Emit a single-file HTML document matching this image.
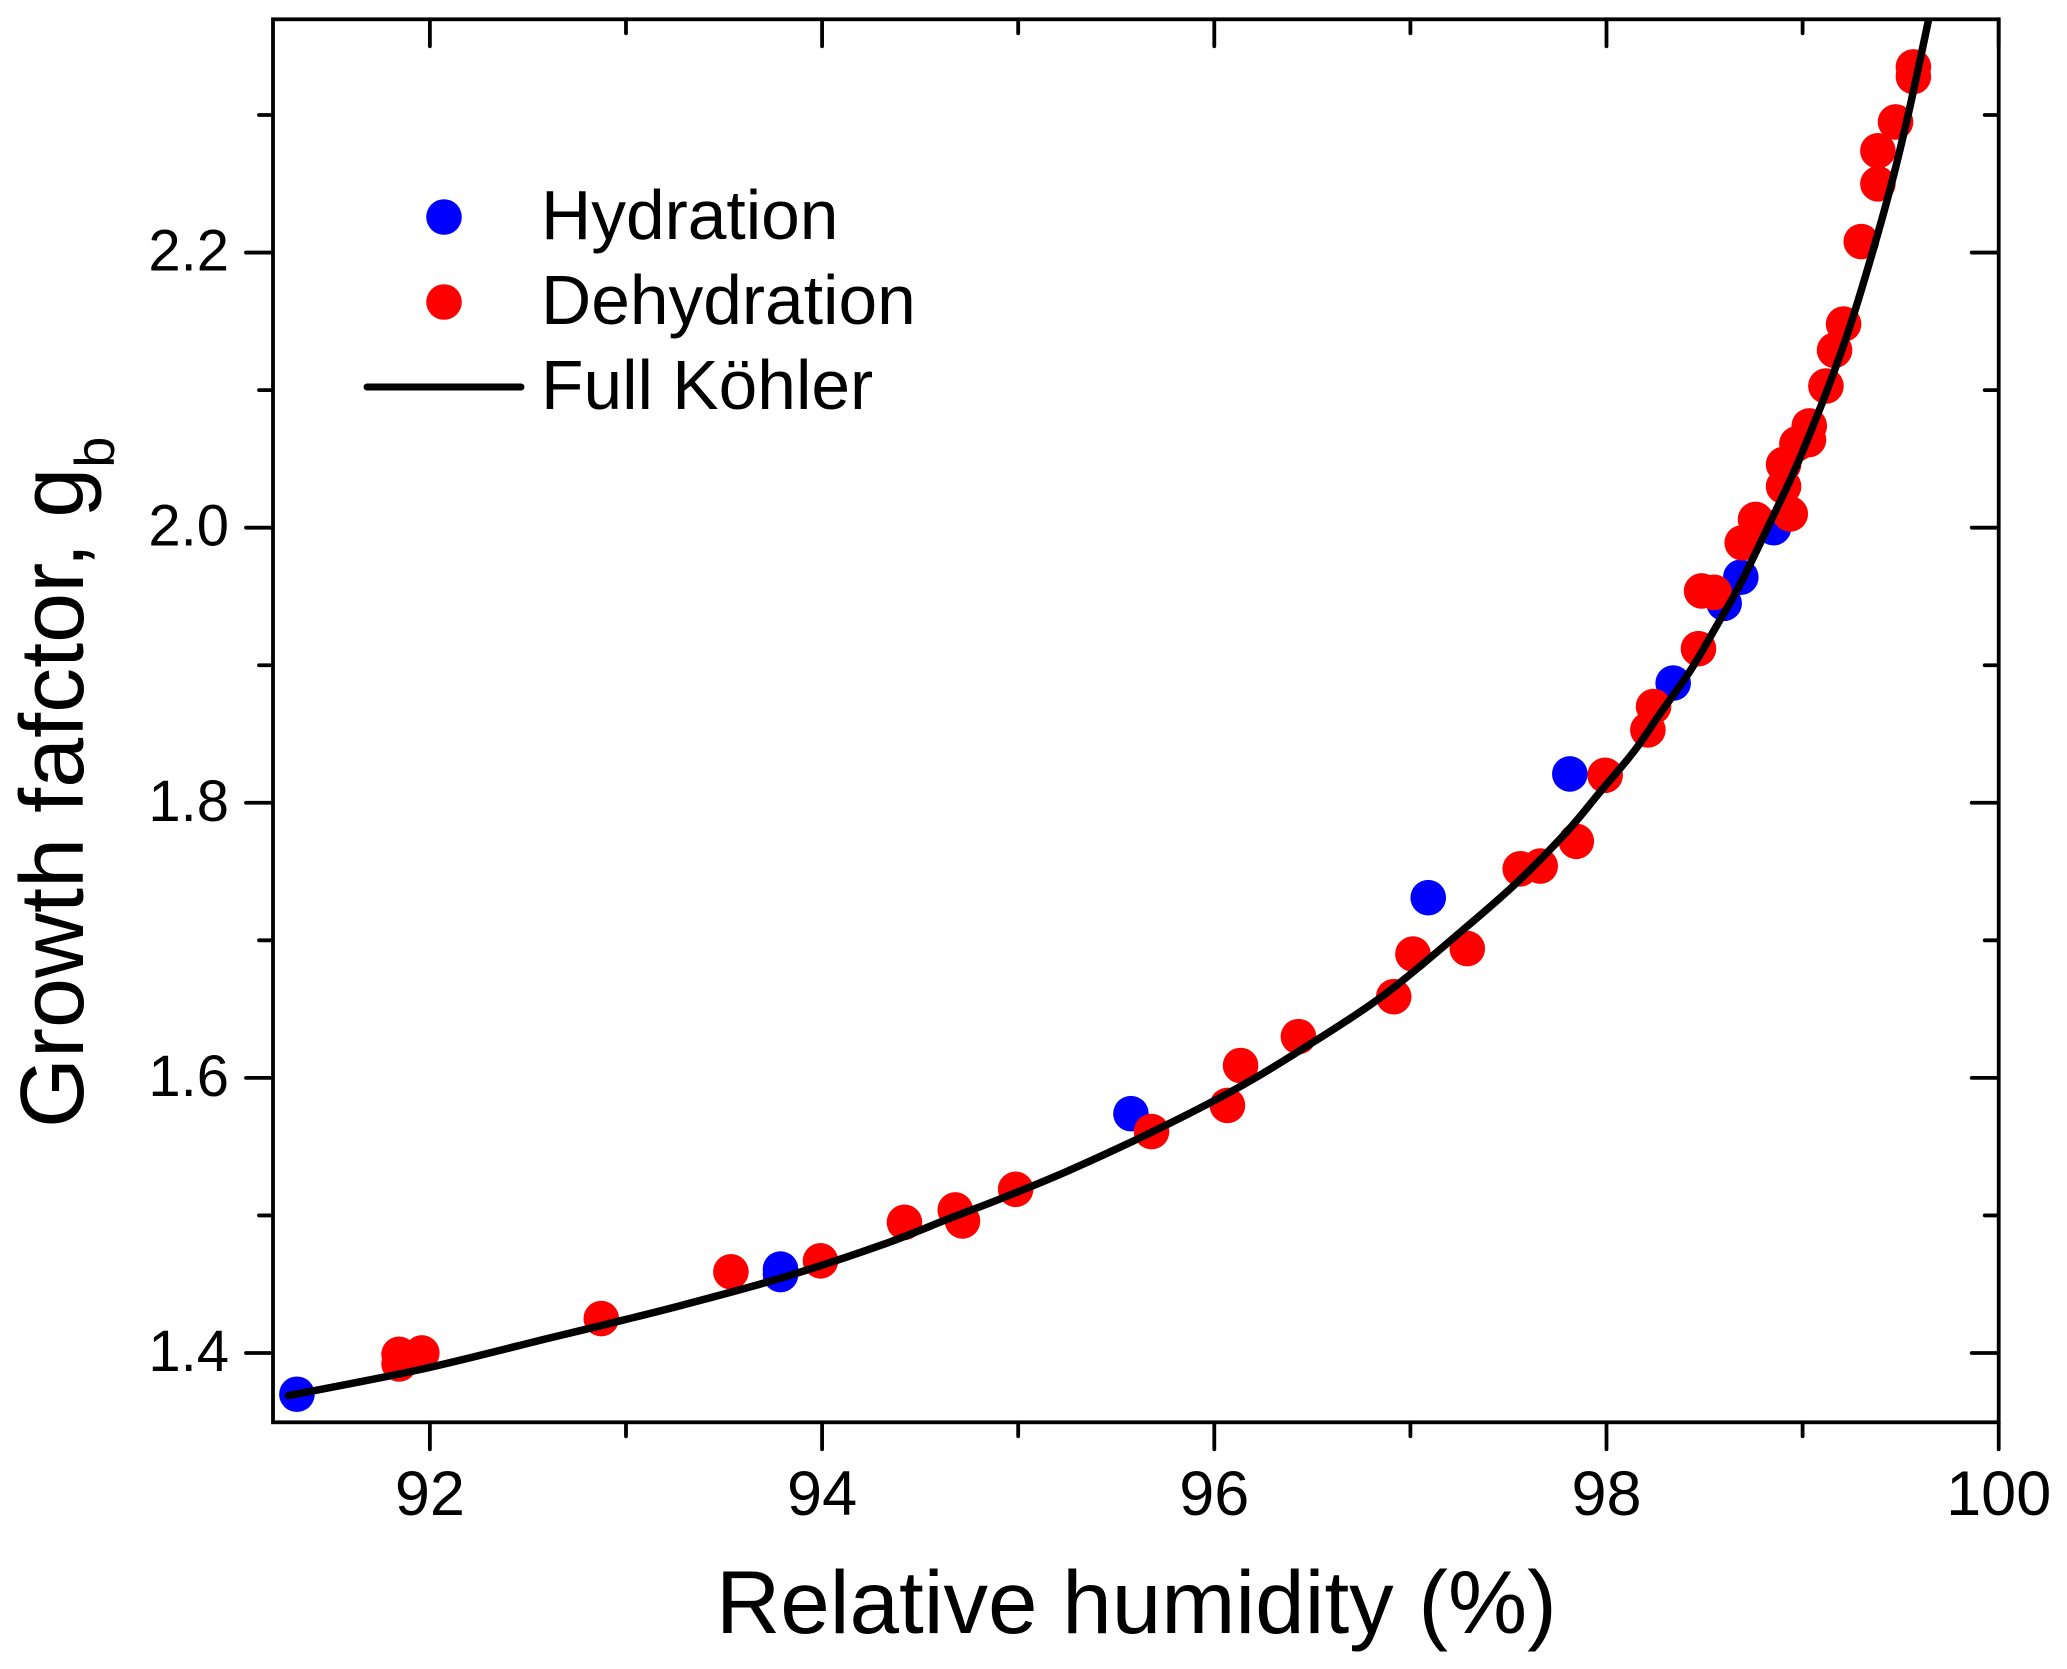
<!DOCTYPE html>
<html lang="en">
<head>
<meta charset="utf-8">
<title>Growth factor vs relative humidity</title>
<style>
html,body{margin:0;padding:0;background:#fff;}
svg{display:block;}
text{font-family:"Liberation Sans",Arial,sans-serif;fill:#000;}
</style>
</head>
<body>
<svg id="chart" xmlns="http://www.w3.org/2000/svg" width="2067" height="1669" viewBox="0 0 2067 1669">
  <rect x="0" y="0" width="2067" height="1669" fill="#fff"/>
  <defs>
    <clipPath id="plot-clip"><rect x="273" y="19" width="1726" height="1404"/></clipPath>
  </defs>
  <g id="ticks"></g>
  <g id="hydration-points"></g>
  <g id="dehydration-points"></g>
  <path id="kohler-line" clip-path="url(#plot-clip)" fill="none" stroke="#000" stroke-width="7.5" stroke-linecap="round" stroke-linejoin="round"/>
  <rect x="273" y="19.3" width="1725.7" height="1403" fill="none" stroke="#000" stroke-width="3.8"/>
  <g id="tick-labels"></g>

  <text x="716" y="1633" font-size="89">Relative humidity (%)</text>
  <text transform="translate(83,1128) rotate(-90)" font-size="90">Growth fafctor, g<tspan font-size="56" dy="31">b</tspan></text>

  <g>
    <circle cx="444" cy="217" r="17.8" fill="#0000ff"/>
    <text x="541" y="239" font-size="69.5">Hydration</text>
    <circle cx="444" cy="302" r="17.8" fill="#ff0000"/>
    <text x="541" y="324" font-size="69.5">Dehydration</text>
    <line x1="367" y1="387" x2="521" y2="387" stroke="#000" stroke-width="7" stroke-linecap="round"/>
    <text x="541" y="409" font-size="69.5">Full Köhler</text>
  </g>
</svg>
<script>
const xMajorTicks = [92, 94, 96, 98, 100];
const xMinorTicks = [93, 95, 97, 99];
const yMajorTicks = [1.4, 1.6, 1.8, 2.0, 2.2];
const yMinorTicks = [1.5, 1.7, 1.9, 2.1, 2.3];
const xTickLabels = ['92', '94', '96', '98', '100'];
const yTickLabels = ['1.4', '1.6', '1.8', '2.0', '2.2'];

const hydrationRH = [91.322, 93.788, 93.788, 95.575, 97.091, 97.813, 98.340, 98.600, 98.685, 98.852];
const hydrationG = [1.370, 1.461, 1.457, 1.574, 1.731, 1.821, 1.887, 1.945, 1.964, 2.000];

const dehydrationRH = [91.843, 91.843, 91.959, 92.874, 93.535, 93.992, 94.420, 94.679, 94.716, 94.987,
  95.680, 96.067, 96.134, 96.429, 96.915, 97.013, 97.290, 97.560, 97.662, 97.846,
  97.993, 98.211, 98.240, 98.469, 98.485, 98.549, 98.692, 98.760, 98.937, 98.903,
  98.903, 98.971, 99.030, 99.034, 99.119, 99.163, 99.209, 99.299, 99.384, 99.384,
  99.474, 99.565, 99.565];
const dehydrationG = [1.399, 1.392, 1.400, 1.425, 1.459, 1.467, 1.495, 1.504, 1.496, 1.519,
  1.561, 1.580, 1.609, 1.630, 1.659, 1.690, 1.694, 1.752, 1.754, 1.772,
  1.820, 1.853, 1.870, 1.912, 1.954, 1.953, 1.989, 2.006, 2.010, 2.030,
  2.046, 2.061, 2.064, 2.074, 2.103, 2.129, 2.148, 2.208, 2.250, 2.274,
  2.295, 2.328, 2.335];

const kohlerRH = [91.279, 91.951, 92.613, 92.903, 93.293, 93.803, 94.313, 94.653, 94.908, 95.248,
  95.673, 96.098, 96.438, 96.863, 97.288, 97.543, 97.798, 97.968, 98.138, 98.274,
  98.427, 98.563, 98.682, 98.835, 98.954, 99.056, 99.141, 99.243, 99.362, 99.464,
  99.549, 99.642];
const kohlerG = [1.369, 1.388, 1.411, 1.421, 1.435, 1.455, 1.479, 1.498, 1.512, 1.532,
  1.560, 1.591, 1.620, 1.660, 1.710, 1.742, 1.779, 1.808, 1.837, 1.865,
  1.896, 1.929, 1.959, 2.004, 2.040, 2.075, 2.106, 2.147, 2.203, 2.256,
  2.307, 2.369];

const NS = 'http://www.w3.org/2000/svg';
const plotLeft = 273, plotRight = 1998.7, plotTop = 19.3, plotBottom = 1422.3;
const xMin = 91.2, xMax = 100, yMin = 1.3496, yMax = 2.3696;

function xScale(v) { return plotLeft + (v - xMin) * (plotRight - plotLeft) / (xMax - xMin); }
function yScale(v) { return plotBottom - (v - yMin) * (plotBottom - plotTop) / (yMax - yMin); }

const tickGroup = document.getElementById('ticks');
const labelGroup = document.getElementById('tick-labels');

function addTick(x1, y1, x2, y2, name) {
  const l = document.createElementNS(NS, 'line');
  l.setAttribute('x1', x1);
  l.setAttribute('y1', y1);
  l.setAttribute('x2', x2);
  l.setAttribute('y2', y2);
  l.setAttribute('stroke', '#000');
  l.setAttribute('stroke-width', '3.8');
  l.setAttribute('stroke-linecap', 'round');
  
  
  tickGroup.appendChild(l);
}

function addLabel(x, y, size, anchor, str, name) {
  const t = document.createElementNS(NS, 'text');
  t.setAttribute('x', x);
  t.setAttribute('y', y);
  t.setAttribute('font-size', size);
  t.setAttribute('text-anchor', anchor);
  
  
  t.textContent = str;
  labelGroup.appendChild(t);
}

const majorLen = 27, minorLen = 14;
xMajorTicks.forEach(function (v, i) {
  const x = xScale(v);
  addTick(x, plotBottom, x, plotBottom + majorLen, 'x-major-tick-bottom');
  addTick(x, plotTop, x, plotTop + majorLen, 'x-major-tick-top');
  addLabel(x, 1515, 63, 'middle', xTickLabels[i], 'x-tick-label');
});
xMinorTicks.forEach(function (v) {
  const x = xScale(v);
  addTick(x, plotBottom, x, plotBottom + minorLen, 'x-minor-tick-bottom');
  addTick(x, plotTop, x, plotTop + minorLen, 'x-minor-tick-top');
});
yMajorTicks.forEach(function (v, i) {
  const y = yScale(v);
  addTick(plotLeft - majorLen, y, plotLeft, y, 'y-major-tick-left');
  addTick(plotRight - majorLen, y, plotRight, y, 'y-major-tick-right');
  addLabel(229, y + 18, 58, 'end', yTickLabels[i], 'y-tick-label');
});
yMinorTicks.forEach(function (v) {
  const y = yScale(v);
  addTick(plotLeft - minorLen, y, plotLeft, y, 'y-minor-tick-left');
  addTick(plotRight - minorLen, y, plotRight, y, 'y-minor-tick-right');
});

const hydrationGroup = document.getElementById('hydration-points');
hydrationRH.forEach(function (v, i) {
  const c = document.createElementNS(NS, 'circle');
  c.setAttribute('cx', xScale(v));
  c.setAttribute('cy', yScale(hydrationG[i]));
  c.setAttribute('r', 17.8);
  c.setAttribute('fill', '#0000ff');
  
  
  hydrationGroup.appendChild(c);
});

const dehydrationGroup = document.getElementById('dehydration-points');
dehydrationRH.forEach(function (v, i) {
  const c = document.createElementNS(NS, 'circle');
  c.setAttribute('cx', xScale(v));
  c.setAttribute('cy', yScale(dehydrationG[i]));
  c.setAttribute('r', 17.8);
  c.setAttribute('fill', '#ff0000');
  
  
  dehydrationGroup.appendChild(c);
});

const pts = kohlerRH.map(function (v, i) { return [xScale(v), yScale(kohlerG[i])]; });
let d = 'M' + pts[0][0].toFixed(2) + ' ' + pts[0][1].toFixed(2);
for (let i = 0; i < pts.length - 1; i++) {
  const p0 = pts[Math.max(0, i - 1)], p1 = pts[i], p2 = pts[i + 1], p3 = pts[Math.min(pts.length - 1, i + 2)];
  const c1x = p1[0] + (p2[0] - p0[0]) / 6, c1y = p1[1] + (p2[1] - p0[1]) / 6;
  const c2x = p2[0] - (p3[0] - p1[0]) / 6, c2y = p2[1] - (p3[1] - p1[1]) / 6;
  d += 'C' + c1x.toFixed(2) + ' ' + c1y.toFixed(2) + ' ' + c2x.toFixed(2) + ' ' + c2y.toFixed(2) + ' ' + p2[0].toFixed(2) + ' ' + p2[1].toFixed(2);
}
document.getElementById('kohler-line').setAttribute('d', d);
</script>
</body>
</html>
